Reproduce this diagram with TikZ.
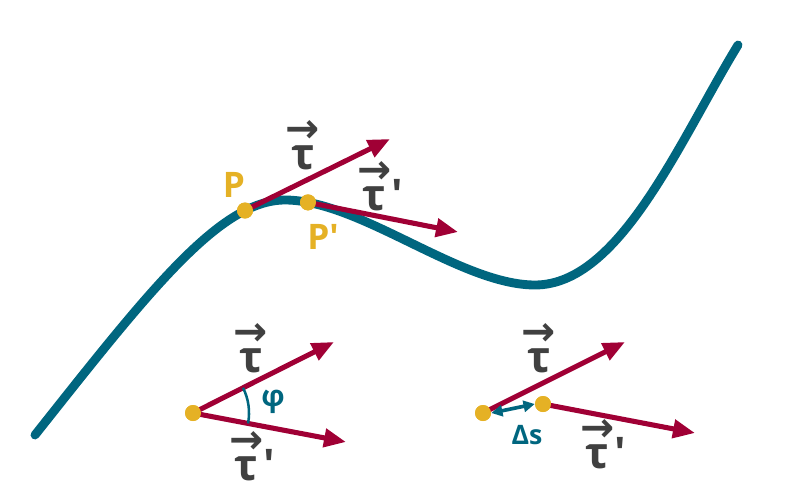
\documentclass[tikz,border=0pt]{standalone}
\usepackage{fontspec}
\setmainfont{Open Sans}
\newfontfamily\arrowfont{DejaVu Sans}
\usetikzlibrary{arrows.meta,angles}

\definecolor{curveteal}{HTML}{00667F}
\definecolor{vecred}{HTML}{A00035}
\definecolor{dotgold}{HTML}{E5B125}
\definecolor{labelgray}{HTML}{404040}

\newcommand{\tauvec}{\shortstack{{\arrowfont\bfseries\fontsize{29}{29}\selectfont →}\\[-0.02em]τ}}
\newcommand{\pr}{\textquotesingle}

\begin{document}
\begin{tikzpicture}[x=0.025cm,y=-0.025cm,
 vec/.style={vecred,line width=3.6pt,-{Triangle[length=0.55cm,width=0.45cm]}},
 pt/.style={circle,fill=dotgold,inner sep=0pt,minimum size=0.4cm},
 tlab/.style={labelgray,font=\fontsize{31}{34}\selectfont\bfseries},
 plab/.style={dotgold,font=\fontsize{25}{28}\selectfont\bfseries},
 small/.style={curveteal,font=\fontsize{19}{22}\selectfont\bfseries}]
 \useasboundingbox (0,0) rectangle (800,500);

 % the curve
 \draw[curveteal,line width=6.3pt,line cap=round]
  (35,435) .. controls (150,290) and (220,200) .. (285,200)
  .. controls (360,200) and (460,285) .. (535,285)
  .. controls (620,285) and (680,140) .. (738,45);

 % tangents on the curve
 \node[pt] (P) at (245,210.5) {};
 \node[pt] (P') at (308,202.4) {};
 \coordinate (tP) at (390,139);
 \coordinate (tP') at (458,232);
 \draw[vec] (P.center) -- (tP);
 \draw[vec] (P'.center) -- (tP');
 \node[pt] at (P) {};
 \node[pt] at (P') {};
 \node[plab] (lP) at (234,185) {P};
 \node[plab] (lP') at (323,237) {P\pr};
 \node[tlab] (t1) at (303,145) {\tauvec};
 \node[tlab] (t2) at (380,186) {\tauvec\pr};

 % angle between the tangents
 \node[pt] (A) at (193,413) {};
 \coordinate (tA) at (334,342);
 \coordinate (tA') at (346,442);
 \draw[vec] (A.center) -- (tA);
 \draw[vec] (A.center) -- (tA');
 \node[pt] at (A) {};
 \pic[draw=curveteal,line width=1.8pt,angle radius=1.4cm] {angle=tA'--A--tA};
 \node[small,font=\fontsize{21}{24}\selectfont\bfseries] (phi) at (273,402) {φ};
 \node[tlab] (t3) at (251,348) {\tauvec};
 \node[tlab] (t4) at (252,456) {\tauvec\pr};

 % arc length between the points
 \node[pt] (B) at (483,413) {};
 \node[pt] (B') at (543,404) {};
 \coordinate (tB) at (625,342);
 \coordinate (tB') at (695,433);
 \draw[vec] (B.center) -- (tB);
 \draw[vec] (B'.center) -- (tB');
 \node[pt] at (B) {};
 \node[pt] at (B') {};
 \draw[curveteal,line width=2.6pt,{Triangle[length=0.28cm,width=0.28cm]}-{Triangle[length=0.28cm,width=0.28cm]}]
  (B.east) -- (B'.west);
 \node[small] (ds) at (527,435) {Δs};
 \node[tlab] (t5) at (539,348) {\tauvec};
 \node[tlab] (t6) at (603,444) {\tauvec\pr};
\end{tikzpicture}
\end{document}
